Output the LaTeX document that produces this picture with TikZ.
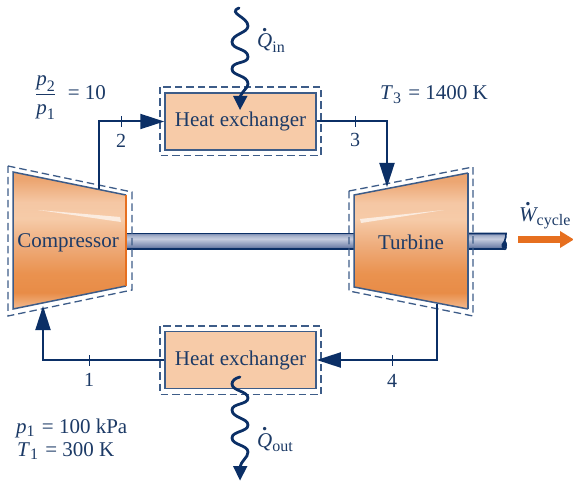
\documentclass[tikz,border=0pt]{standalone}
\usepackage{amsmath}
\usepackage{fontspec}
\setmainfont{Liberation Serif}
\DeclareMathSizes{21}{21}{16}{12}
\usetikzlibrary{arrows.meta}
\definecolor{navy}{HTML}{0B2F66}
\definecolor{inkc}{HTML}{1C3A66}
\definecolor{edgec}{HTML}{3D5C88}
\definecolor{boxfill}{HTML}{F7CBA8}
\definecolor{orangeA}{HTML}{E66F1F}
\definecolor{ma}{HTML}{F3BC92}
\definecolor{mb}{HTML}{E88C47}
\definecolor{mc}{HTML}{EA924F}
\definecolor{md}{HTML}{EEAB7A}
\definecolor{me}{HTML}{F6CBA8}
\definecolor{mf}{HTML}{F5C7A4}
\definecolor{mg}{HTML}{ECA672}
\definecolor{sa}{HTML}{4F6592}
\definecolor{sb}{HTML}{7E8DB2}
\definecolor{sc}{HTML}{C6CDDF}
\definecolor{sd}{HTML}{A7B2CC}
\pgfdeclareverticalshading{machshade}{100bp}{
 color(0bp)=(ma);color(25bp)=(ma);color(31bp)=(mb);color(38bp)=(mc);color(48bp)=(md);color(58bp)=(me);color(64bp)=(mf);color(72bp)=(mg);color(75bp)=(mg);color(100bp)=(mg)}
\pgfdeclareverticalshading{shaftshade}{100bp}{
 color(0bp)=(sa);color(25bp)=(sa);color(35bp)=(sb);color(58bp)=(sc);color(68bp)=(sd);color(75bp)=(sb);color(100bp)=(sb)}
\tikzset{
 x=1pt,y=-1pt,
 txt/.style={text=inkc,font=\fontsize{21}{24}\selectfont,inner sep=0pt},
 lbl/.style={text=inkc,font=\fontsize{20}{22}\selectfont,inner sep=0pt},
 hx/.style={draw=edgec,line width=1.5pt,fill=boxfill,minimum width=151pt,minimum height=57pt,inner sep=0pt,text=inkc,font=\fontsize{21}{24}\selectfont},
 dashbox/.style={draw=edgec,line width=1.3pt,dash pattern=on 7.5pt off 4pt},
 mach/.style={draw=edgec,line width=1.5pt},
 pipe/.style={draw=navy,line width=2pt},
 flow/.style={pipe,-{Triangle[length=24pt,width=15pt]}},
 heat/.style={draw=navy,line width=2.8pt,line cap=round},
 tick/.style={draw=navy,line width=1pt},
 glint/.style={fill=white,fill opacity=.65,draw=none},
}
\newcommand{\DotQ}{\overset{\raisebox{-2pt}{\textbf{.}}}{\textit{Q}}}
\newcommand{\DotW}{\overset{\raisebox{-2pt}{\textbf{.}}}{\textit{W}}}
\begin{document}
\begin{tikzpicture}
\useasboundingbox (0,0) rectangle (573,481);
% shaft
\shade[shading=shaftshade] (126,233.5) rectangle (356,249);
\draw[navy,line width=1.6pt] (126,233.5) -- (356,233.5) (126,249) -- (356,249);
\shade[shading=shaftshade] (468,233.5) -- (505,233.5) .. controls (509,238) and (503,243) .. (507,246) .. controls (507,248) and (505,249) .. (503,249) -- (468,249) -- cycle;
\draw[navy,line width=1.6pt] (468,233.5) -- (506,233.5) .. controls (507,238) and (502,243) .. (505,246) .. controls (507,248) and (506,250) .. (503,249) -- (468,249);
\fill[navy] (503,249) .. controls (500,245) and (502,243) .. (505,240) .. controls (508,243) and (508,249) .. (503,249);
% compressor
\shade[shading=machshade] (13,172) -- (126,195) -- (126,286) -- (13,309) -- cycle;
\draw[mach] (126,195) -- (13,172) -- (13,309) -- (126,286);
\draw[orangeA,line width=1.5pt] (126,195) -- (126,286);
\fill[glint] (38,210) -- (120,217) -- (121,222) -- cycle;
\draw[dashbox] (8,166) -- (132,192) -- (132,290) -- (8,316) -- cycle;
\node[txt] (comp) at (68,242.5) {Compressor};
% turbine
\shade[shading=machshade] (354,195) -- (468,173) -- (468,309) -- (354,287) -- cycle;
\draw[mach] (468,173) -- (354,195) -- (354,287) -- (468,309);
\fill[glint] (360,219) -- (444,210) -- (361,223) -- cycle;
\draw[edgec,line width=1.5pt] (468,173) -- (468,309);
\draw[dashbox] (349,191) -- (473,167) -- (473,316) -- (349,291) -- cycle;
\node[txt] (turb) at (411,242.5) {Turbine};
% heat exchangers
\node[hx] (hxtop) at (240.5,121.5) {Heat exchanger};
\node[hx] (hxbot) at (240.5,360) {Heat exchanger};
\draw[dashbox] (160,87) rectangle (321,155.5);
\draw[dashbox] (160,326) rectangle (321,394.5);
% anchors
\coordinate (cout) at (98.5,189);
\coordinate (cin) at (43,306);
\coordinate (tin) at (387,187);
\coordinate (tout) at (437,304);
\coordinate (a) at (cout |- hxtop.west);
\coordinate (b) at (tin |- hxtop.east);
\coordinate (c) at (tout |- hxbot.east);
\coordinate (d) at (cin |- hxbot.west);
% connectors
\draw[flow] (cout) -- (a) -- (hxtop.west);
\draw[flow] (hxtop.east) -- (b) -- (tin);
\draw[flow] (tout) -- (c) -- (hxbot.east);
\draw[flow] (hxbot.west) -- (d) -- (cin);
% ticks
\draw[tick] (121,116.5) -- (121,127);
\draw[tick] (355,116.5) -- (355,127);
\draw[tick] (392,355) -- (392,365.5);
\draw[tick] (89,355) -- (89,365.5);
\node[lbl] (n2) at (121,141) {2};
\node[lbl] (n3) at (355,140) {3};
\node[lbl] (n4) at (392,381) {4};
\node[lbl] (n1) at (89,380) {1};
% heat wiggles
\coordinate (qia) at (239,8);
\coordinate (qib) at (240,110);
\draw[heat] (qia) .. controls (227,13) and (248,17) .. (248,26) .. controls (248,33) and (232,34) .. (232,42) .. controls (232,50) and (248,48) .. (248,57) .. controls (248,64) and (232,61) .. (232,69) .. controls (232,76) and (248,75) .. (248,84) .. controls (248,88) and (243,90) .. (240,97);
\fill[navy] (233,96) -- (247.5,96) -- (qib) -- cycle;
\coordinate (qoa) at (240,377);
\coordinate (qob) at (240,480.5);
\draw[heat] (qoa) .. controls (235,378) and (232,381) .. (232,384) .. controls (232,391) and (248,391) .. (248,398) .. controls (248,405) and (232,403) .. (232,410) .. controls (232,418) and (248,418) .. (248,425) .. controls (248,432) and (232,431) .. (232,438) .. controls (232,445) and (248,445) .. (248,452) .. controls (248,458) and (241,460) .. (240,468);
\fill[navy] (233,466) -- (247.5,466) -- (qob) -- cycle;
% labels
\node[txt,anchor=base west] (qin) at (257,48) {$\DotQ_{\textrm{in}}$};
\node[txt,anchor=base west] (qout) at (257,447) {$\DotQ_{\textrm{out}}$};
\node[txt,anchor=base west] (ratio) at (35,100) {$\dfrac{\textit{p}_{\textrm{2}}}{\textit{p}_{\textrm{1}}}$\hspace{6pt} = 10};
\node[txt,anchor=base west] (t3) at (380,100) {\textit{T}$_{\textrm{3}}$\hspace{1.5pt} = 1400 K};
\node[txt,anchor=base west] (p1) at (16,433) {\textit{p}$_{\textrm{1}}$\hspace{1.5pt} = 100 kPa};
\node[txt,anchor=base west] (t1) at (17,456) {\textit{T}$_{\textrm{1}}$\hspace{1.5pt} = 300 K};
\node[txt,anchor=base west] (wc) at (519,222) {$\DotW_{\textrm{cycle}}$};
% work arrow
\coordinate (wa) at (518,239.5);
\coordinate (wb) at (574,239.5);
\draw[draw=orangeA,line width=6.5pt,-{Triangle[length=14pt,width=16pt]}] (wa) -- (wb);
\end{tikzpicture}
\end{document}
